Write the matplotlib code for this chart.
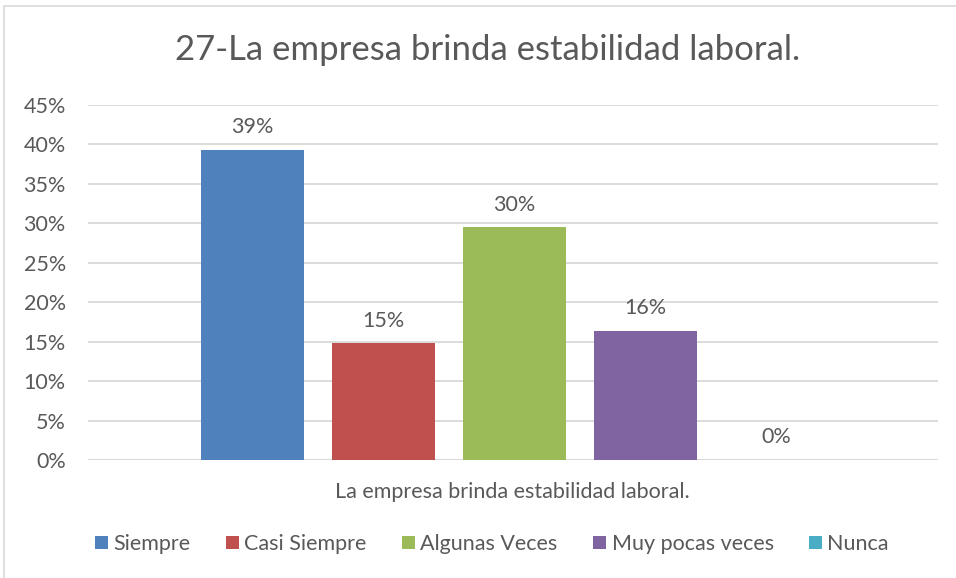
import numpy as np
import matplotlib.pyplot as plt
from matplotlib.patches import Patch, Rectangle

categorias = ['Siempre', 'Casi Siempre', 'Algunas Veces', 'Muy pocas veces', 'Nunca']
valores = [0.393, 0.148, 0.295, 0.164, 0.0]
etiquetas = ['39%', '15%', '30%', '16%', '0%']
colores = ['#4F81BD', '#C0504D', '#9BBB59', '#8064A2', '#4BACC6']
titulo = '27-La empresa brinda estabilidad laboral.'
eje_x = 'La empresa brinda estabilidad laboral.'

plt.rcParams['font.family'] = ['Lato', 'DejaVu Sans']
gris = '#595959'

fig = plt.figure(figsize=(9.56, 5.78), dpi=100)
W, H = 956, 578
# marco del grafico
fig.patches.append(Rectangle((4 / W, -0.01), 1.0, 1 - 6 / H + 0.01, transform=fig.transFigure,
                             fill=False, edgecolor='#D9D9D9', linewidth=1.2))

ax = fig.add_axes([88 / W, 1 - 460 / H, (938 - 88) / W, (460 - 105) / H])
x = np.arange(len(categorias))
bars = ax.bar(x, valores, width=0.79, color=colores, zorder=3)
for xi, v, t in zip(x, valores, etiquetas):
    ax.text(xi, v + 0.016, t, ha='center', va='bottom', fontsize=15.5, color=gris)

ax.set_xlim(-1.256, 5.233)
ax.set_ylim(0, 0.45)
ax.set_yticks(np.arange(0, 0.451, 0.05))
ax.set_yticklabels([f'{int(round(t * 100))}%' for t in np.arange(0, 0.451, 0.05)])
ax.tick_params(axis='y', length=0, labelsize=15.5, labelcolor=gris, pad=16)
ax.set_xticks([])
ax.yaxis.grid(True, color='#D9D9D9', linewidth=1.3, zorder=0)
for s in ax.spines.values():
    s.set_visible(False)
ax.axhline(0, color='#D9D9D9', linewidth=1.5, zorder=2)

fig.text(488 / W, 1 - 50 / H, titulo, ha='center', va='center', fontsize=25, color=gris)
fig.text(512 / W, 1 - 492 / H, eje_x, ha='center', va='center', fontsize=15.5, color=gris)

handles = [Patch(facecolor=c, edgecolor='none') for c in colores]
fig.legend(handles, categorias, loc='center', bbox_to_anchor=(492 / W, 1 - 544 / H), ncol=5,
           frameon=False, fontsize=15.5, handlelength=0.6, handleheight=0.6,
           handletextpad=0.25, columnspacing=1.65, labelcolor=gris)

fig.savefig('out.png', dpi=100)
